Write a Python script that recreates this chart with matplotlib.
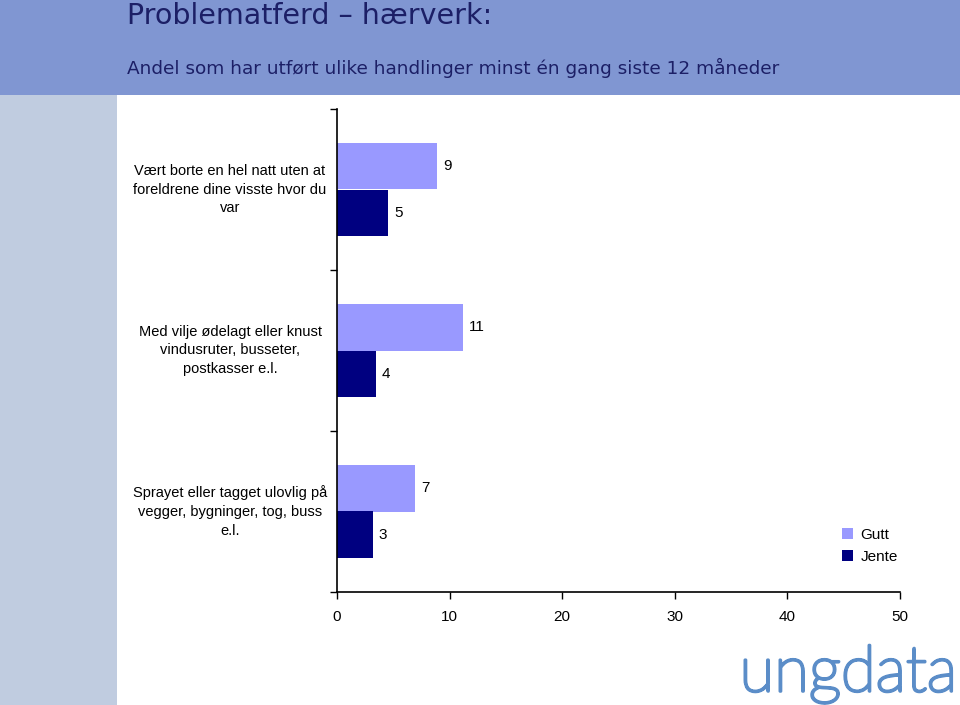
import numpy as np
import matplotlib
matplotlib.use('Agg')
import matplotlib.pyplot as plt
import matplotlib.patheffects as pe
from matplotlib.patches import Rectangle

# data
categories = ['Vært borte en hel natt uten at\nforeldrene dine visste hvor du\nvar',
              'Med vilje ødelagt eller knust\nvindusruter, busseter,\npostkasser e.l.',
              'Sprayet eller tagget ulovlig på\nvegger, bygninger, tog, buss\ne.l.']
gutt = [8.9, 11.2, 6.95]
jente = [4.55, 3.5, 3.2]
series_names = ['Gutt', 'Jente']
x_ticks = [0, 10, 20, 30, 40, 50]

title = 'Problematferd \u2013 hærverk:'
subtitle = 'Andel som har utført ulike handlinger minst én gang siste 12 måneder'

GUTT_COL = '#9999FF'
JENTE_COL = '#000080'
HEAD_COL = '#8096D2'
STRIP_COL = '#C0CCE0'
TITLE_COL = '#1C1F66'
LOGO_COL = '#5B8DC8'

plt.rcParams['font.family'] = ['Liberation Sans', 'DejaVu Sans']

fig = plt.figure(figsize=(9.6, 7.05), dpi=100)

# header band and left strip
fig.patches.append(Rectangle((0, 1 - 95 / 705), 1, 95 / 705, transform=fig.transFigure,
                             facecolor=HEAD_COL, edgecolor='none', zorder=0))
fig.patches.append(Rectangle((0, 0), 117 / 960, 1 - 95 / 705, transform=fig.transFigure,
                             facecolor=STRIP_COL, edgecolor='none', zorder=0))

head_font = ['DejaVu Sans']
fig.text(127 / 960, 1 - 16 / 705, title, family=head_font, fontsize=20.5,
         color=TITLE_COL, va='center', ha='left')
fig.text(127 / 960, 1 - 68 / 705, subtitle, family=head_font, fontsize=13.3,
         color=TITLE_COL, va='center', ha='left')

ax = fig.add_axes([337 / 960, 113 / 705, 563 / 960, 483 / 705])

y = np.arange(len(categories))
h = 0.286
b1 = ax.barh(y - h / 2, gutt, height=h, color=GUTT_COL, label=series_names[0])
b2 = ax.barh(y + h / 2, jente, height=h, color=JENTE_COL, label=series_names[1])

for bars, vals in [(b1, gutt), (b2, jente)]:
    for rect, v in zip(bars, vals):
        ax.text(v + 0.5, rect.get_y() + rect.get_height() / 2, '%.0f' % v,
                va='center', ha='left', fontsize=11)

ax.set_xlim(0, 50)
ax.set_ylim(len(categories) - 0.5, -0.5)
ax.set_xticks(x_ticks)
ax.set_xticklabels([str(t) for t in x_ticks], fontsize=11)
ax.set_yticks(np.arange(len(categories) + 1) - 0.5)
ax.set_yticklabels([])
ax.tick_params(axis='both', direction='out', length=5, width=1, color='black')
ax.tick_params(axis='x', pad=8)
for s in ['top', 'right']:
    ax.spines[s].set_visible(False)
for s in ['left', 'bottom']:
    ax.spines[s].set_linewidth(1.2)

for i, lab in enumerate(categories):
    ax.text(-9.5, i, lab, ha='center', va='center', fontsize=10.5,
            linespacing=1.45, transform=ax.transData)

leg = ax.legend(loc='upper left', bbox_to_anchor=(836 / 960, 1 - 522 / 705),
                bbox_transform=fig.transFigure, frameon=False, fontsize=11,
                handlelength=0.7, handleheight=0.7, handletextpad=0.5,
                labelspacing=0.5, borderaxespad=0)

# logo, light font thickened with a stroke
fig.text(957 / 960, 1 - 674 / 705, 'ungdata', family=['Lato', 'DejaVu Sans'],
         fontweight='light', fontsize=46, color=LOGO_COL, ha='right', va='center',
         path_effects=[pe.withStroke(linewidth=2.2, foreground=LOGO_COL)])

fig.savefig('out.png', dpi=100)
